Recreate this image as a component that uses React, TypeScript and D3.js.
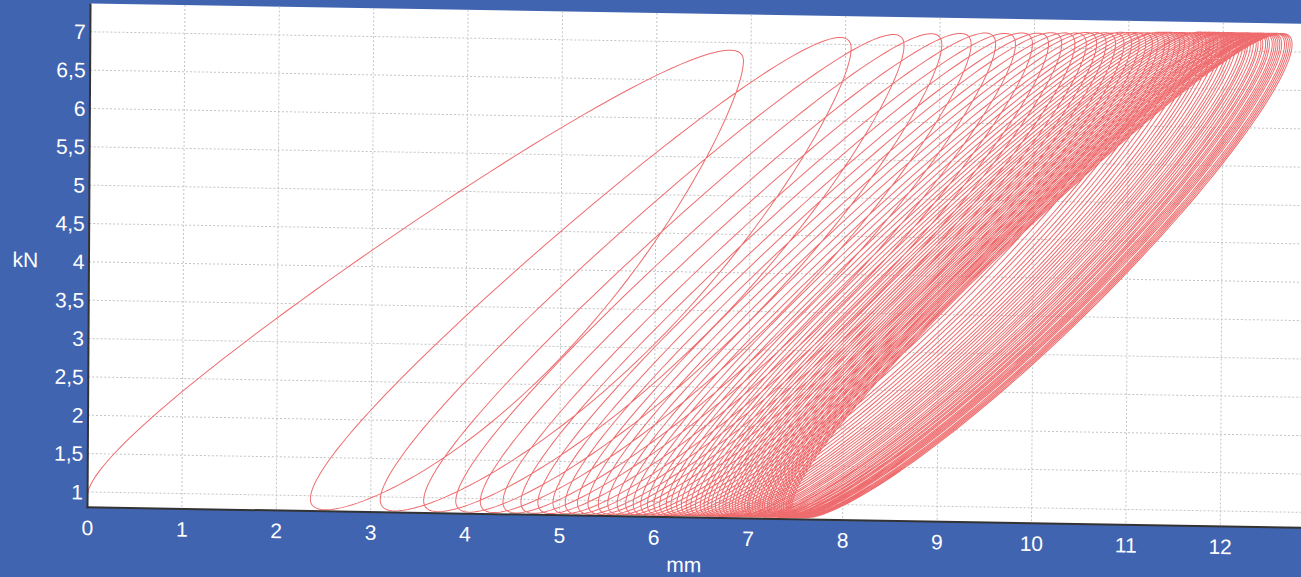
import React from "react";
import * as d3 from "d3";

// ---- data ----
const xTicks = [0, 1, 2, 3, 4, 5, 6, 7, 8, 9, 10, 11, 12];
const yTicks = [1, 1.5, 2, 2.5, 3, 3.5, 4, 4.5, 5, 5.5, 6, 6.5, 7];

// right tip (max displacement, mm) of each load cycle
const peakX = [
  6.92, 8.06, 8.62, 9.02, 9.33, 9.59, 9.8, 9.98, 10.15, 10.29,
  10.43, 10.55, 10.66, 10.76, 10.86, 10.95, 11.03, 11.11, 11.18, 11.25,
  11.31, 11.38, 11.43, 11.49, 11.54, 11.59, 11.64, 11.69, 11.74, 11.78,
  11.82, 11.86, 11.9, 11.94, 11.98, 12.01, 12.05, 12.08, 12.11, 12.14,
  12.18, 12.21, 12.24, 12.26, 12.29, 12.32, 12.35, 12.37, 12.4, 12.42,
  12.45, 12.47, 12.49, 12.52, 12.54, 12.56, 12.58, 12.6, 12.62, 12.65,
  12.67, 12.69, 12.71, 12.73,
];
// left tip (min displacement, mm) after each unloading
const valleyX = [
  2.36, 3.1, 3.56, 3.9, 4.16, 4.4, 4.59, 4.77, 4.93, 5.06,
  5.19, 5.3, 5.41, 5.51, 5.61, 5.7, 5.78, 5.86, 5.93, 6.0,
  6.06, 6.13, 6.18, 6.24, 6.29, 6.34, 6.39, 6.44, 6.49, 6.53,
  6.57, 6.61, 6.65, 6.69, 6.73, 6.76, 6.8, 6.83, 6.86, 6.89,
  6.93, 6.96, 6.99, 7.01, 7.04, 7.07, 7.1, 7.12, 7.15, 7.17,
  7.2, 7.22, 7.24, 7.27, 7.29, 7.31, 7.33, 7.35, 7.37, 7.4,
  7.42, 7.44, 7.46, 7.48,
];
// maximum load (kN) of each cycle
const peakLoad = [
  6.9, 7.09, 7.14, 7.16, 7.17, 7.18, 7.18, 7.19, 7.19, 7.2,
  7.2, 7.2, 7.21, 7.21, 7.21, 7.21, 7.22, 7.22, 7.22, 7.22,
  7.22, 7.22, 7.23, 7.23, 7.23, 7.23, 7.23, 7.23, 7.23, 7.23,
  7.23, 7.24, 7.24, 7.24, 7.24, 7.24, 7.24, 7.24, 7.24, 7.24,
  7.24, 7.24, 7.24, 7.24, 7.24, 7.24, 7.24, 7.24, 7.24, 7.24,
  7.24, 7.24, 7.24, 7.24, 7.24, 7.24, 7.24, 7.24, 7.24, 7.24,
  7.24, 7.24, 7.24, 7.24,
];
const minLoad = 0.82;
const startX = 0;

const W = 1301;
const H = 577;
const BLUE = "#4164b1";
const RED = "#ef6c6e";

function buildPoints() {
  const pts: [number, number][] = [];
  const n = 70;
  const dTip = 0.3;
  let from = startX;
  for (let k = 0; k < peakX.length; k++) {
    const P = peakX[k];
    const V = valleyX[k];
    const fMax = peakLoad[k];
    const dF = fMax - minLoad;
    const dUp = 0.25;
    const dDown = 0.33 + 0.17 * Math.exp(-k / 4);
    for (let i = 0; i <= n; i++) {
      const s = (Math.PI * i) / n;
      const d = dTip + (dUp - dTip) * Math.sin(s);
      const ux = (1 - Math.cos(s)) / 2;
      const uf = (1 - Math.cos(s + d)) / 2;
      pts.push([from + (P - from) * ux, minLoad + dF * uf]);
    }
    for (let i = 1; i <= n; i++) {
      const s = (Math.PI * i) / n;
      const d = dTip + (dDown - dTip) * Math.sin(s);
      const ux = (1 - Math.cos(s)) / 2;
      const uf = (1 - Math.cos(s + d)) / 2;
      pts.push([P - (P - V) * ux, fMax - dF * uf]);
    }
    from = V;
  }
  return pts;
}

export default function App() {
  const x = d3.scaleLinear().domain([0, 13]).range([87.5, 1314.7]);
  const y = d3.scaleLinear().domain([0.8, 7.37]).range([507.3, 3.4]);
  const [x0, x1] = x.range();
  const [yb, yt] = y.range();
  const line = d3
    .line<[number, number]>()
    .x((d) => x(d[0]))
    .y((d) => y(d[1]));
  const pts = buildPoints();
  const fmt = (v: number) => String(v).replace(".", ",");
  const skew = `translate(87.5,507) matrix(1,0.0168,-0.006,1,0,0) translate(-87.5,-507)`;

  return (
    <svg
      width={W}
      height={H}
      style={{ position: "absolute", left: 0, top: 0, background: BLUE }}
      fontFamily="'Liberation Sans', Arial, sans-serif"
    >
      <rect x={0} y={0} width={W} height={H} fill={BLUE} />
      <defs>
        <clipPath id="plotclip">
          <rect x={x0} y={yt} width={x1 - x0} height={yb - yt} />
        </clipPath>
      </defs>
      <g transform={skew}>
        <rect x={x0} y={yt} width={x1 - x0} height={yb - yt} fill="#ffffff" />
        {xTicks.slice(1).map((t) => (
          <line
            key={"gx" + t}
            x1={x(t)}
            x2={x(t)}
            y1={yt}
            y2={yb}
            stroke="#c4c4c4"
            strokeWidth={1}
            strokeDasharray="2 2"
          />
        ))}
        {yTicks.map((t) => (
          <line
            key={"gy" + t}
            x1={x0}
            x2={x1}
            y1={y(t)}
            y2={y(t)}
            stroke="#c4c4c4"
            strokeWidth={1}
            strokeDasharray="2 2"
          />
        ))}
        <g clipPath="url(#plotclip)">
          <path d={line(pts) || ""} fill="none" stroke={RED} strokeWidth={1} />
        </g>
        <line x1={x0} x2={x0} y1={yt} y2={yb + 1} stroke="#333" strokeWidth={2} />
        <line x1={x0 - 1} x2={x1} y1={yb} y2={yb} stroke="#333" strokeWidth={2} />
        {xTicks.map((t) => (
          <text
            key={"tx" + t}
            x={x(t)}
            y={535}
            fill="#fff"
            fontSize={21}
            textAnchor="middle"
          >
            {fmt(t)}
          </text>
        ))}
        {yTicks.map((t) => (
          <text
            key={"ty" + t}
            x={83}
            y={y(t) + 7.5}
            fill="#fff"
            fontSize={21}
            textAnchor="end"
          >
            {fmt(t)}
          </text>
        ))}
        <text x={24} y={268} fill="#fff" fontSize={21} textAnchor="middle">
          kN
        </text>
        <text x={684} y={562} fill="#fff" fontSize={21} textAnchor="middle">
          mm
        </text>
      </g>
    </svg>
  );
}
